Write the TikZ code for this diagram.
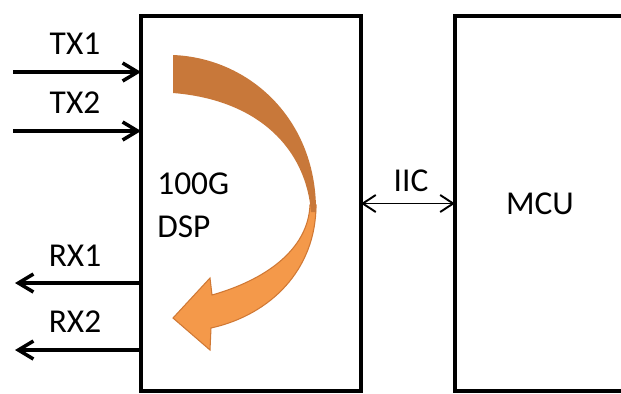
\documentclass[tikz,border=0pt]{standalone}
\usepackage{fontspec}
\setmainfont{Carlito}
\usetikzlibrary{arrows.meta,positioning}
\definecolor{bandtop}{HTML}{C8783A}
\definecolor{bandlow}{HTML}{F4994A}
\definecolor{bandedge}{HTML}{D07834}

\begin{document}
\begin{tikzpicture}[x=0.02cm, y=-0.02cm, every node/.style={font=\fontsize{19}{24.4}\selectfont},
  box/.style={draw, line width=2.3pt, outer sep=0pt, minimum height=7.5cm},
  lbl/.style={inner sep=0pt},
  arr/.style={-{Straight Barb[length=3mm,width=3.6mm]}, line width=2pt},
  dbl/.style={{Straight Barb[length=2.6mm,width=3.4mm]}-{Straight Barb[length=2.6mm,width=3.4mm]}, line width=1.1pt}]
\useasboundingbox (0,0) rectangle (621,393);
\clip (0,0) rectangle (621,393);
\node[box, minimum width=4.4cm] (dsp) at (251,203.5) {};
\node[box, minimum width=3.4cm, right=1.88cm of dsp] (mcu) {MCU};
\node[lbl, align=left, anchor=west] (dsptext) at (157,205) {100G\\DSP};
% lines in and out
\coordinate (tx1) at (13,72);
\coordinate (tx2) at (13,131);
\coordinate (rx1) at (15,283);
\coordinate (rx2) at (15,350);
\draw[arr] (tx1) -- (tx1 -| dsp.west);
\draw[arr] (tx2) -- (tx2 -| dsp.west);
\draw[arr] (rx1 -| dsp.west) -- (rx1);
\draw[arr] (rx2 -| dsp.west) -- (rx2);
\draw[dbl] (dsp.east) -- (mcu.west);
\node[lbl] (tx1lbl) at (75,44) {TX1};
\node[lbl] (tx2lbl) at (75,103) {TX2};
\node[lbl] (rx1lbl) at (75,256) {RX1};
\node[lbl] (rx2lbl) at (75,322) {RX2};
\node[lbl] (iiclbl) at (411,181) {IIC};
% loop-back arrow
\fill[bandlow, draw=bandedge, line width=0.6pt]
  (316,205) .. controls (316,270) and (270,315) .. (211,328)
  -- (210,350) -- (173,318) -- (210,278) -- (212,295)
  .. controls (265,280) and (308,250) .. (310,205) -- cycle;
\fill[bandtop]
  (173,55) .. controls (250,58) and (317,120) .. (316,212)
  -- (311,212) .. controls (306,150) and (260,100) .. (173,93) -- cycle;
\end{tikzpicture}
\end{document}
